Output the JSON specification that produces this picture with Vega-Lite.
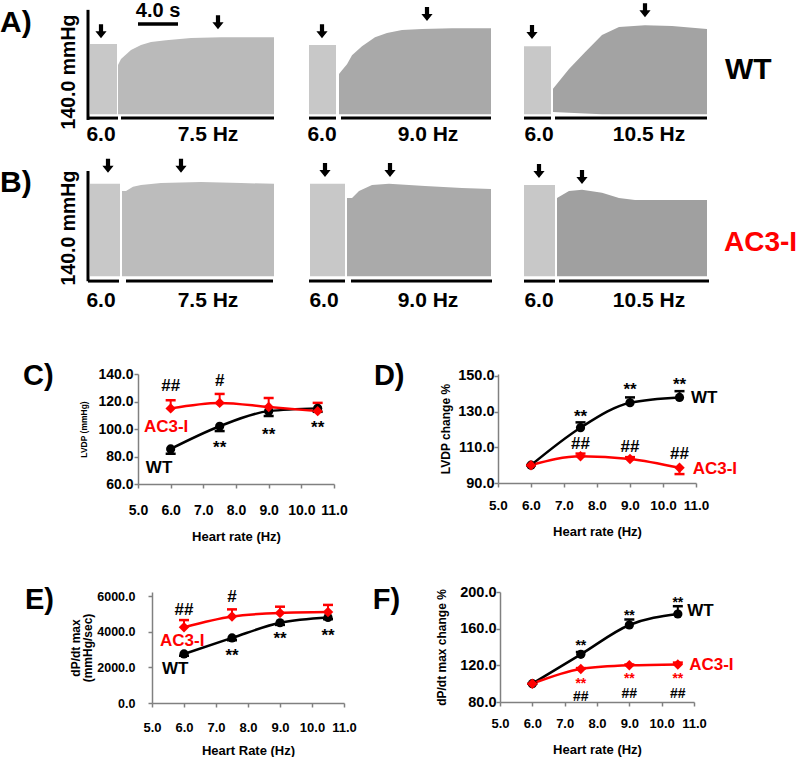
{
"$schema":"https://vega.github.io/schema/vega-lite/v6.json",
"padding":0,
"background":"white",
"config":{"font":"Liberation Sans","view":{"stroke":null},
 "axis":{"domainColor":"#808080","tickColor":"#808080","domainWidth":1.5,"tickWidth":1.5,"labelColor":"#000","titleColor":"#000","labelFontWeight":"bold","titleFontWeight":"bold","labelFlush":false,"labelOverlap":false,"grid":false,"labelFont":"Liberation Sans","titleFont":"Liberation Sans"},
 "text":{"font":"Liberation Sans"}},
"datasets":{
"tr":[
{"p":"A1","t":0.2,"hi":94,"lo":0,"r":"6.0"},{"p":"A1","t":2.9,"hi":94,"lo":0,"r":"6.0"},
{"p":"A1","t":3.0,"hi":66,"lo":0,"r":"7.5"},{"p":"A1","t":3.3,"hi":74,"lo":0,"r":"7.5"},{"p":"A1","t":4.3,"hi":86,"lo":0,"r":"7.5"},{"p":"A1","t":5.3,"hi":92.5,"lo":0,"r":"7.5"},{"p":"A1","t":6.3,"hi":96.5,"lo":0,"r":"7.5"},{"p":"A1","t":7.8,"hi":99,"lo":0,"r":"7.5"},{"p":"A1","t":10.3,"hi":102,"lo":0,"r":"7.5"},{"p":"A1","t":13.3,"hi":103,"lo":0,"r":"7.5"},{"p":"A1","t":18.6,"hi":103,"lo":0,"r":"7.5"},
{"p":"A2","t":0.1,"hi":92.5,"lo":0,"r":"6.0"},{"p":"A2","t":2.8,"hi":92.5,"lo":0,"r":"6.0"},
{"p":"A2","t":3.1,"hi":54,"lo":0,"r":"9.0"},{"p":"A2","t":3.4,"hi":59,"lo":0,"r":"9.0"},{"p":"A2","t":3.9,"hi":67,"lo":0,"r":"9.0"},{"p":"A2","t":4.4,"hi":79,"lo":0,"r":"9.0"},{"p":"A2","t":5.4,"hi":91,"lo":0,"r":"9.0"},{"p":"A2","t":6.7,"hi":103,"lo":0,"r":"9.0"},{"p":"A2","t":7.9,"hi":108.5,"lo":0,"r":"9.0"},{"p":"A2","t":9.4,"hi":112.5,"lo":0,"r":"9.0"},{"p":"A2","t":11.4,"hi":114,"lo":0,"r":"9.0"},{"p":"A2","t":14.4,"hi":115,"lo":0,"r":"9.0"},{"p":"A2","t":18.3,"hi":115,"lo":0,"r":"9.0"},
{"p":"A3","t":0,"hi":91,"lo":0,"r":"6.0"},{"p":"A3","t":2.7,"hi":91,"lo":0,"r":"6.0"},
{"p":"A3","t":2.9,"hi":34,"lo":3,"r":"10.5"},{"p":"A3","t":4.5,"hi":60.5,"lo":2,"r":"10.5"},{"p":"A3","t":6.1,"hi":83,"lo":1,"r":"10.5"},{"p":"A3","t":7.8,"hi":106,"lo":0,"r":"10.5"},{"p":"A3","t":9.5,"hi":116.5,"lo":0,"r":"10.5"},{"p":"A3","t":12.1,"hi":119,"lo":0,"r":"10.5"},{"p":"A3","t":14.8,"hi":118,"lo":0,"r":"10.5"},{"p":"A3","t":18.3,"hi":114,"lo":0,"r":"10.5"},
{"p":"B1","t":0.2,"hi":123,"lo":0,"r":"6.0"},{"p":"B1","t":3.2,"hi":123,"lo":0,"r":"6.0"},
{"p":"B1","t":3.4,"hi":113.5,"lo":0,"r":"7.5"},{"p":"B1","t":3.8,"hi":113.5,"lo":0,"r":"7.5"},{"p":"B1","t":4.5,"hi":119,"lo":0,"r":"7.5"},{"p":"B1","t":5.3,"hi":121.5,"lo":0,"r":"7.5"},{"p":"B1","t":7.3,"hi":124,"lo":0,"r":"7.5"},{"p":"B1","t":11.3,"hi":125.5,"lo":0,"r":"7.5"},{"p":"B1","t":15.3,"hi":124,"lo":0,"r":"7.5"},{"p":"B1","t":18.6,"hi":123,"lo":0,"r":"7.5"},
{"p":"B2","t":0.2,"hi":123,"lo":0,"r":"6.0"},{"p":"B2","t":3.7,"hi":123,"lo":0,"r":"6.0"},
{"p":"B2","t":3.9,"hi":104,"lo":0,"r":"9.0"},{"p":"B2","t":4.4,"hi":104,"lo":0,"r":"9.0"},{"p":"B2","t":5.1,"hi":113.5,"lo":0,"r":"9.0"},{"p":"B2","t":6.4,"hi":121.5,"lo":0,"r":"9.0"},{"p":"B2","t":8.1,"hi":123,"lo":0,"r":"9.0"},{"p":"B2","t":11.7,"hi":120,"lo":0,"r":"9.0"},{"p":"B2","t":15.4,"hi":117.5,"lo":0,"r":"9.0"},{"p":"B2","t":18.3,"hi":116,"lo":0,"r":"9.0"},
{"p":"B3","t":0,"hi":121.5,"lo":0,"r":"6.0"},{"p":"B3","t":3.1,"hi":121.5,"lo":0,"r":"6.0"},
{"p":"B3","t":3.3,"hi":104,"lo":0,"r":"10.5"},{"p":"B3","t":4.5,"hi":113.5,"lo":0,"r":"10.5"},{"p":"B3","t":5.8,"hi":115,"lo":0,"r":"10.5"},{"p":"B3","t":7.8,"hi":111,"lo":0,"r":"10.5"},{"p":"B3","t":9.5,"hi":104,"lo":0,"r":"10.5"},{"p":"B3","t":11.1,"hi":101.5,"lo":0,"r":"10.5"},{"p":"B3","t":18.3,"hi":101.5,"lo":0,"r":"10.5"}
],
"bars":[
{"p":"A1","t1":-0.1,"t2":3.0},{"p":"A1","t1":3.3,"t2":18.6},
{"p":"A2","t1":0.1,"t2":2.8},{"p":"A2","t1":3.3,"t2":18.3},
{"p":"A3","t1":0,"t2":2.7},{"p":"A3","t1":3.1,"t2":18.3},
{"p":"B1","t1":0,"t2":3.1},{"p":"B1","t1":3.8,"t2":18.5},
{"p":"B2","t1":0.1,"t2":3.7},{"p":"B2","t1":4.3,"t2":18.4},
{"p":"B3","t1":0,"t2":3.1},{"p":"B3","t1":3.5,"t2":18.5}
],
"tlab":[
{"p":"A1","t":1.3,"txt":"6.0"},{"p":"A1","t":12.0,"txt":"7.5 Hz"},
{"p":"A2","t":1.4,"txt":"6.0"},{"p":"A2","t":12.0,"txt":"9.0 Hz"},
{"p":"A3","t":1.5,"txt":"6.0"},{"p":"A3","t":12.5,"txt":"10.5 Hz"},
{"p":"B1","t":1.3,"txt":"6.0"},{"p":"B1","t":12.0,"txt":"7.5 Hz"},
{"p":"B2","t":1.6,"txt":"6.0"},{"p":"B2","t":12.0,"txt":"9.0 Hz"},
{"p":"B3","t":1.5,"txt":"6.0"},{"p":"B3","t":12.5,"txt":"10.5 Hz"}
],
"arr":[
{"p":"A1","t":1.3,"y":111},{"p":"A1","t":13.0,"y":123},
{"p":"A2","t":1.4,"y":111},{"p":"A2","t":11.9,"y":134},
{"p":"A3","t":0.8,"y":110},{"p":"A3","t":12.1,"y":139},
{"p":"B1","t":2.0,"y":147},{"p":"B1","t":9.3,"y":147},
{"p":"B2","t":1.7,"y":141.5},{"p":"B2","t":8.2,"y":141.5},
{"p":"B3","t":1.5,"y":140},{"p":"B3","t":5.8,"y":132}
],
"misc":[
{"p":"A1","k":"vaxis","t":0,"y":-7.5,"y2":139.5},
{"p":"A1","k":"sbar","t":5,"t2":9,"y":120.5},
{"p":"A1","k":"sbtext","t":7,"y":138,"txt":"4.0 s"},
{"p":"A1","k":"ytitle","t":-1.9,"y":56.5,"txt":"140.0 mmHg"},
{"p":"A1","k":"letter","t":-8.7,"y":122,"txt":"A)"},
{"p":"A3","k":"grp","t":20.1,"y":59,"txt":"WT"},
{"p":"B1","k":"vaxis","t":0,"y":-6.7,"y2":140},
{"p":"B1","k":"ytitle","t":-1.9,"y":64,"txt":"140.0 mmHg"},
{"p":"B1","k":"letter","t":-8.7,"y":124,"txt":"B)"},
{"p":"B3","k":"grp","t":20.0,"y":44,"txt":"AC3-I"}
],
"ser":[
{"pn":"C","hz":6,"grp":"WT","y":85.5,"e":82},{"pn":"C","hz":7.5,"grp":"WT","y":102,"e":98.5},{"pn":"C","hz":9,"grp":"WT","y":113,"e":109.5},{"pn":"C","hz":10.5,"grp":"WT","y":115,"e":112.5},
{"pn":"C","hz":6,"grp":"AC3-I","y":115,"e":121},{"pn":"C","hz":7.5,"grp":"AC3-I","y":119,"e":125.5},{"pn":"C","hz":9,"grp":"AC3-I","y":116,"e":122.5},{"pn":"C","hz":10.5,"grp":"AC3-I","y":113,"e":119},
{"pn":"D","hz":6,"grp":"WT","y":100,"e":100},{"pn":"D","hz":7.5,"grp":"WT","y":121,"e":124},{"pn":"D","hz":9,"grp":"WT","y":135,"e":138},{"pn":"D","hz":10.5,"grp":"WT","y":138,"e":141.5},
{"pn":"D","hz":6,"grp":"AC3-I","y":100,"e":100},{"pn":"D","hz":7.5,"grp":"AC3-I","y":105,"e":106.5},{"pn":"D","hz":9,"grp":"AC3-I","y":103.5,"e":104.5},{"pn":"D","hz":10.5,"grp":"AC3-I","y":98.5,"e":95},
{"pn":"E","hz":6,"grp":"WT","y":2750,"e":2650},{"pn":"E","hz":7.5,"grp":"WT","y":3650,"e":3520},{"pn":"E","hz":9,"grp":"WT","y":4500,"e":4380},{"pn":"E","hz":10.5,"grp":"WT","y":4800,"e":4700},
{"pn":"E","hz":6,"grp":"AC3-I","y":4250,"e":4650},{"pn":"E","hz":7.5,"grp":"AC3-I","y":4850,"e":5250},{"pn":"E","hz":9,"grp":"AC3-I","y":5050,"e":5400},{"pn":"E","hz":10.5,"grp":"AC3-I","y":5100,"e":5500},
{"pn":"F","hz":6,"grp":"WT","y":100,"e":100},{"pn":"F","hz":7.5,"grp":"WT","y":132,"e":134.5},{"pn":"F","hz":9,"grp":"WT","y":164,"e":170},{"pn":"F","hz":10.5,"grp":"WT","y":176,"e":184.5},
{"pn":"F","hz":6,"grp":"AC3-I","y":100,"e":100},{"pn":"F","hz":7.5,"grp":"AC3-I","y":116,"e":117},{"pn":"F","hz":9,"grp":"AC3-I","y":120,"e":121},{"pn":"F","hz":10.5,"grp":"AC3-I","y":121,"e":123}
],
"cap":[
{"pn":"C","hz":6,"grp":"WT","y":82},{"pn":"C","hz":7.5,"grp":"WT","y":98.5},{"pn":"C","hz":9,"grp":"WT","y":109.5},{"pn":"C","hz":10.5,"grp":"WT","y":112.5},
{"pn":"C","hz":6,"grp":"AC3-I","y":121},{"pn":"C","hz":7.5,"grp":"AC3-I","y":125.5},{"pn":"C","hz":9,"grp":"AC3-I","y":122.5},{"pn":"C","hz":10.5,"grp":"AC3-I","y":119},
{"pn":"D","hz":6,"grp":"WT","y":100},{"pn":"D","hz":7.5,"grp":"WT","y":124},{"pn":"D","hz":9,"grp":"WT","y":138},{"pn":"D","hz":10.5,"grp":"WT","y":141.5},
{"pn":"D","hz":6,"grp":"AC3-I","y":100},{"pn":"D","hz":7.5,"grp":"AC3-I","y":106.5},{"pn":"D","hz":9,"grp":"AC3-I","y":104.5},{"pn":"D","hz":10.5,"grp":"AC3-I","y":95},
{"pn":"E","hz":6,"grp":"WT","y":2650},{"pn":"E","hz":7.5,"grp":"WT","y":3520},{"pn":"E","hz":9,"grp":"WT","y":4380},{"pn":"E","hz":10.5,"grp":"WT","y":4700},
{"pn":"E","hz":6,"grp":"AC3-I","y":4650},{"pn":"E","hz":7.5,"grp":"AC3-I","y":5250},{"pn":"E","hz":9,"grp":"AC3-I","y":5400},{"pn":"E","hz":10.5,"grp":"AC3-I","y":5500},
{"pn":"F","hz":6,"grp":"WT","y":100},{"pn":"F","hz":7.5,"grp":"WT","y":134.5},{"pn":"F","hz":9,"grp":"WT","y":170},{"pn":"F","hz":10.5,"grp":"WT","y":184.5},
{"pn":"F","hz":6,"grp":"AC3-I","y":100},{"pn":"F","hz":7.5,"grp":"AC3-I","y":117},{"pn":"F","hz":9,"grp":"AC3-I","y":121},{"pn":"F","hz":10.5,"grp":"AC3-I","y":123}
],
"ann":[
{"pn":"C","hz":6,"y":131,"txt":"##","grp":"WT"},{"pn":"C","hz":7.5,"y":135,"txt":"#","grp":"WT"},{"pn":"C","hz":7.5,"y":86.1,"txt":"**","grp":"WT"},{"pn":"C","hz":9,"y":95.6,"txt":"**","grp":"WT"},{"pn":"C","hz":10.5,"y":100.7,"txt":"**","grp":"WT"},
{"pn":"D","hz":7.5,"y":127,"txt":"**","grp":"WT"},{"pn":"D","hz":9,"y":142.1,"txt":"**","grp":"WT"},{"pn":"D","hz":10.5,"y":145,"txt":"**","grp":"WT"},{"pn":"D","hz":7.5,"y":112,"txt":"##","grp":"WT"},{"pn":"D","hz":9,"y":110,"txt":"##","grp":"WT"},{"pn":"D","hz":10.5,"y":106,"txt":"##","grp":"WT"},
{"pn":"E","hz":6,"y":5215,"txt":"##","grp":"WT"},{"pn":"E","hz":7.5,"y":5944,"txt":"#","grp":"WT"},{"pn":"E","hz":7.5,"y":2636,"txt":"**","grp":"WT"},{"pn":"E","hz":9,"y":3589,"txt":"**","grp":"WT"},{"pn":"E","hz":10.5,"y":3757,"txt":"**","grp":"WT"}
],
"annF":[
{"pn":"F","hz":7.5,"y":141,"txt":"**","grp":"WT"},{"pn":"F","hz":9,"y":173.8,"txt":"**","grp":"WT"},{"pn":"F","hz":10.5,"y":188,"txt":"**","grp":"WT"},{"pn":"F","hz":7.5,"y":100,"txt":"**","grp":"AC3-I"},{"pn":"F","hz":9,"y":105,"txt":"**","grp":"AC3-I"},{"pn":"F","hz":10.5,"y":105.5,"txt":"**","grp":"AC3-I"},{"pn":"F","hz":7.5,"y":85.5,"txt":"##","grp":"WT"},{"pn":"F","hz":9,"y":89,"txt":"##","grp":"WT"},{"pn":"F","hz":10.5,"y":88.9,"txt":"##","grp":"WT"}
],
"nm":[
{"pn":"C","hz":5.18,"y":101.5,"txt":"AC3-I","grp":"AC3-I"},{"pn":"C","hz":5.24,"y":71.6,"txt":"WT","grp":"WT"},
{"pn":"D","hz":10.85,"y":137.5,"txt":"WT","grp":"WT"},{"pn":"D","hz":10.9,"y":97.8,"txt":"AC3-I","grp":"AC3-I"},
{"pn":"E","hz":5.25,"y":3477,"txt":"AC3-I","grp":"AC3-I"},{"pn":"E","hz":5.31,"y":1907,"txt":"WT","grp":"WT"},
{"pn":"F","hz":10.79,"y":179.3,"txt":"WT","grp":"WT"},{"pn":"F","hz":10.85,"y":120.4,"txt":"AC3-I","grp":"AC3-I"}
],
"let":[
{"pn":"C","hz":1.51,"y":138.5,"txt":"C)"},{"pn":"D","hz":1.24,"y":150,"txt":"D)"},{"pn":"E","hz":1.09,"y":5776,"txt":"E)"},{"pn":"F","hz":1.068,"y":191.3,"txt":"F)"}
]
},
"resolve":{"scale":{"color":"independent","shape":"independent","size":"independent"}},
"vconcat":[
{"resolve":{"scale":{"color":"independent","shape":"independent","size":"independent"}},"vconcat":[
{"resolve":{"scale":{"color":"independent","shape":"independent","size":"independent"}},"hconcat":[
{"width":32,"height":146,"data":{"name":"misc"},"transform":[{"filter":"datum.p==='A1' && datum.k==='letter'"}],"mark":{"type":"text","fontSize":30,"fontWeight":"bold","color":"#000","baseline":"middle","align":"left"},"encoding":{"x":{"field":"t","type":"quantitative","scale":{"domain":[-8.7,-5.5],"nice":false,"zero":false},"axis":null},"y":{"field":"y","type":"quantitative","scale":{"domain":[-45,150],"nice":false,"zero":false},"axis":null},"text":{"field":"txt"}}},
{"width":193,"height":146,"layer":[
{"data":{"name":"tr"},"transform":[{"filter":"datum.p==='A1'"}],"mark":{"type":"area","opacity":1},"encoding":{"x":{"field":"t","type":"quantitative","scale":{"domain":[0,19.3],"nice":false,"zero":false},"axis":null},"y":{"field":"hi","type":"quantitative","scale":{"domain":[-45,150],"nice":false,"zero":false},"axis":null},"y2":{"field":"lo"},"color":{"field":"r","type":"nominal","scale":{"domain":["6.0","7.5","9.0","10.5"],"range":["#c8c8c8","#bababa","#a9a9a9","#a3a3a3"]},"legend":null}}},
{"data":{"name":"bars"},"transform":[{"filter":"datum.p==='A1'"}],"mark":{"type":"rule","color":"#000","strokeWidth":3},"encoding":{"x":{"field":"t1","type":"quantitative","axis":null},"x2":{"field":"t2"},"y":{"datum":-5,"type":"quantitative","axis":null}}},
{"data":{"name":"tlab"},"transform":[{"filter":"datum.p==='A1'"}],"mark":{"type":"text","fontSize":21,"fontWeight":"bold","color":"#000","baseline":"middle","align":"center"},"encoding":{"x":{"field":"t","type":"quantitative","axis":null},"y":{"datum":-28,"type":"quantitative","axis":null},"text":{"field":"txt"}}},
{"data":{"name":"arr"},"transform":[{"filter":"datum.p==='A1'"}],"mark":{"type":"point","shape":"M-0.3,-1L0.3,-1L0.3,0L0.8,0L0,1L-0.8,0L-0.3,0Z","size":196,"filled":true,"color":"#000","opacity":1},"encoding":{"x":{"field":"t","type":"quantitative","axis":null},"y":{"field":"y","type":"quantitative","axis":null}}},
{"data":{"name":"misc"},"transform":[{"filter":"datum.p==='A1' && datum.k==='vaxis'"}],"mark":{"type":"rule","color":"#000","strokeWidth":3},"encoding":{"x":{"field":"t","type":"quantitative","axis":null},"y":{"field":"y","type":"quantitative","axis":null},"y2":{"field":"y2"}}},
{"data":{"name":"misc"},"transform":[{"filter":"datum.p==='A1' && datum.k==='sbar'"}],"mark":{"type":"rule","color":"#000","strokeWidth":3.5},"encoding":{"x":{"field":"t","type":"quantitative","axis":null},"x2":{"field":"t2"},"y":{"field":"y","type":"quantitative","axis":null}}},
{"data":{"name":"misc"},"transform":[{"filter":"datum.p==='A1' && datum.k==='sbtext'"}],"mark":{"type":"text","fontSize":20,"fontWeight":"bold","color":"#000","baseline":"middle","align":"center"},"encoding":{"x":{"field":"t","type":"quantitative","axis":null},"y":{"field":"y","type":"quantitative","axis":null},"text":{"field":"txt"}}},
{"data":{"name":"misc"},"transform":[{"filter":"datum.p==='A1' && datum.k==='ytitle'"}],"mark":{"type":"text","fontSize":19.5,"fontWeight":"bold","color":"#000","baseline":"middle","align":"center","angle":270},"encoding":{"x":{"field":"t","type":"quantitative","axis":null},"y":{"field":"y","type":"quantitative","axis":null},"text":{"field":"txt"}}}
]},
{"width":188,"height":146,"layer":[
{"data":{"name":"tr"},"transform":[{"filter":"datum.p==='A2'"}],"mark":{"type":"area","opacity":1},"encoding":{"x":{"field":"t","type":"quantitative","scale":{"domain":[0,18.8],"nice":false,"zero":false},"axis":null},"y":{"field":"hi","type":"quantitative","scale":{"domain":[-45,150],"nice":false,"zero":false},"axis":null},"y2":{"field":"lo"},"color":{"field":"r","type":"nominal","scale":{"domain":["6.0","7.5","9.0","10.5"],"range":["#c8c8c8","#bababa","#a9a9a9","#a3a3a3"]},"legend":null}}},
{"data":{"name":"bars"},"transform":[{"filter":"datum.p==='A2'"}],"mark":{"type":"rule","color":"#000","strokeWidth":3},"encoding":{"x":{"field":"t1","type":"quantitative","axis":null},"x2":{"field":"t2"},"y":{"datum":-5,"type":"quantitative","axis":null}}},
{"data":{"name":"tlab"},"transform":[{"filter":"datum.p==='A2'"}],"mark":{"type":"text","fontSize":21,"fontWeight":"bold","color":"#000","baseline":"middle","align":"center"},"encoding":{"x":{"field":"t","type":"quantitative","axis":null},"y":{"datum":-28,"type":"quantitative","axis":null},"text":{"field":"txt"}}},
{"data":{"name":"arr"},"transform":[{"filter":"datum.p==='A2'"}],"mark":{"type":"point","shape":"M-0.3,-1L0.3,-1L0.3,0L0.8,0L0,1L-0.8,0L-0.3,0Z","size":196,"filled":true,"color":"#000","opacity":1},"encoding":{"x":{"field":"t","type":"quantitative","axis":null},"y":{"field":"y","type":"quantitative","axis":null}}}
]},
{"width":184,"height":146,"layer":[
{"data":{"name":"tr"},"transform":[{"filter":"datum.p==='A3'"}],"mark":{"type":"area","opacity":1},"encoding":{"x":{"field":"t","type":"quantitative","scale":{"domain":[0,18.4],"nice":false,"zero":false},"axis":null},"y":{"field":"hi","type":"quantitative","scale":{"domain":[-45,150],"nice":false,"zero":false},"axis":null},"y2":{"field":"lo"},"color":{"field":"r","type":"nominal","scale":{"domain":["6.0","7.5","9.0","10.5"],"range":["#c8c8c8","#bababa","#a9a9a9","#a3a3a3"]},"legend":null}}},
{"data":{"name":"bars"},"transform":[{"filter":"datum.p==='A3'"}],"mark":{"type":"rule","color":"#000","strokeWidth":3},"encoding":{"x":{"field":"t1","type":"quantitative","axis":null},"x2":{"field":"t2"},"y":{"datum":-5,"type":"quantitative","axis":null}}},
{"data":{"name":"tlab"},"transform":[{"filter":"datum.p==='A3'"}],"mark":{"type":"text","fontSize":21,"fontWeight":"bold","color":"#000","baseline":"middle","align":"center"},"encoding":{"x":{"field":"t","type":"quantitative","axis":null},"y":{"datum":-28,"type":"quantitative","axis":null},"text":{"field":"txt"}}},
{"data":{"name":"arr"},"transform":[{"filter":"datum.p==='A3'"}],"mark":{"type":"point","shape":"M-0.3,-1L0.3,-1L0.3,0L0.8,0L0,1L-0.8,0L-0.3,0Z","size":196,"filled":true,"color":"#000","opacity":1},"encoding":{"x":{"field":"t","type":"quantitative","axis":null},"y":{"field":"y","type":"quantitative","axis":null}}},
{"data":{"name":"misc"},"transform":[{"filter":"datum.p==='A3' && datum.k==='grp'"}],"mark":{"type":"text","fontSize":30,"fontWeight":"bold","color":"#000","baseline":"middle","align":"left"},"encoding":{"x":{"field":"t","type":"quantitative","axis":null},"y":{"field":"y","type":"quantitative","axis":null},"text":{"field":"txt"}}}
]}
],"spacing":26},
{"resolve":{"scale":{"color":"independent","shape":"independent","size":"independent"}},"hconcat":[
{"width":32,"height":151,"data":{"name":"misc"},"transform":[{"filter":"datum.p==='B1' && datum.k==='letter'"}],"mark":{"type":"text","fontSize":30,"fontWeight":"bold","color":"#000","baseline":"middle","align":"left"},"encoding":{"x":{"field":"t","type":"quantitative","scale":{"domain":[-8.7,-5.5],"nice":false,"zero":false},"axis":null},"y":{"field":"y","type":"quantitative","scale":{"domain":[-45,156],"nice":false,"zero":false},"axis":null},"text":{"field":"txt"}}},
{"width":193,"height":151,"layer":[
{"data":{"name":"tr"},"transform":[{"filter":"datum.p==='B1'"}],"mark":{"type":"area","opacity":1},"encoding":{"x":{"field":"t","type":"quantitative","scale":{"domain":[0,19.3],"nice":false,"zero":false},"axis":null},"y":{"field":"hi","type":"quantitative","scale":{"domain":[-45,156],"nice":false,"zero":false},"axis":null},"y2":{"field":"lo"},"color":{"field":"r","type":"nominal","scale":{"domain":["6.0","7.5","9.0","10.5"],"range":["#c8c8c8","#bcbcbc","#aaaaaa","#a0a0a0"]},"legend":null}}},
{"data":{"name":"bars"},"transform":[{"filter":"datum.p==='B1'"}],"mark":{"type":"rule","color":"#000","strokeWidth":3},"encoding":{"x":{"field":"t1","type":"quantitative","axis":null},"x2":{"field":"t2"},"y":{"datum":-6.5,"type":"quantitative","axis":null}}},
{"data":{"name":"tlab"},"transform":[{"filter":"datum.p==='B1'"}],"mark":{"type":"text","fontSize":21,"fontWeight":"bold","color":"#000","baseline":"middle","align":"center"},"encoding":{"x":{"field":"t","type":"quantitative","axis":null},"y":{"datum":-33,"type":"quantitative","axis":null},"text":{"field":"txt"}}},
{"data":{"name":"arr"},"transform":[{"filter":"datum.p==='B1'"}],"mark":{"type":"point","shape":"M-0.3,-1L0.3,-1L0.3,0L0.8,0L0,1L-0.8,0L-0.3,0Z","size":196,"filled":true,"color":"#000","opacity":1},"encoding":{"x":{"field":"t","type":"quantitative","axis":null},"y":{"field":"y","type":"quantitative","axis":null}}},
{"data":{"name":"misc"},"transform":[{"filter":"datum.p==='B1' && datum.k==='vaxis'"}],"mark":{"type":"rule","color":"#000","strokeWidth":3},"encoding":{"x":{"field":"t","type":"quantitative","axis":null},"y":{"field":"y","type":"quantitative","axis":null},"y2":{"field":"y2"}}},
{"data":{"name":"misc"},"transform":[{"filter":"datum.p==='B1' && datum.k==='ytitle'"}],"mark":{"type":"text","fontSize":19.5,"fontWeight":"bold","color":"#000","baseline":"middle","align":"center","angle":270},"encoding":{"x":{"field":"t","type":"quantitative","axis":null},"y":{"field":"y","type":"quantitative","axis":null},"text":{"field":"txt"}}}
]},
{"width":188,"height":151,"layer":[
{"data":{"name":"tr"},"transform":[{"filter":"datum.p==='B2'"}],"mark":{"type":"area","opacity":1},"encoding":{"x":{"field":"t","type":"quantitative","scale":{"domain":[0,18.8],"nice":false,"zero":false},"axis":null},"y":{"field":"hi","type":"quantitative","scale":{"domain":[-45,156],"nice":false,"zero":false},"axis":null},"y2":{"field":"lo"},"color":{"field":"r","type":"nominal","scale":{"domain":["6.0","7.5","9.0","10.5"],"range":["#c8c8c8","#bcbcbc","#aaaaaa","#a0a0a0"]},"legend":null}}},
{"data":{"name":"bars"},"transform":[{"filter":"datum.p==='B2'"}],"mark":{"type":"rule","color":"#000","strokeWidth":3},"encoding":{"x":{"field":"t1","type":"quantitative","axis":null},"x2":{"field":"t2"},"y":{"datum":-6.5,"type":"quantitative","axis":null}}},
{"data":{"name":"tlab"},"transform":[{"filter":"datum.p==='B2'"}],"mark":{"type":"text","fontSize":21,"fontWeight":"bold","color":"#000","baseline":"middle","align":"center"},"encoding":{"x":{"field":"t","type":"quantitative","axis":null},"y":{"datum":-33,"type":"quantitative","axis":null},"text":{"field":"txt"}}},
{"data":{"name":"arr"},"transform":[{"filter":"datum.p==='B2'"}],"mark":{"type":"point","shape":"M-0.3,-1L0.3,-1L0.3,0L0.8,0L0,1L-0.8,0L-0.3,0Z","size":196,"filled":true,"color":"#000","opacity":1},"encoding":{"x":{"field":"t","type":"quantitative","axis":null},"y":{"field":"y","type":"quantitative","axis":null}}}
]},
{"width":185,"height":151,"layer":[
{"data":{"name":"tr"},"transform":[{"filter":"datum.p==='B3'"}],"mark":{"type":"area","opacity":1},"encoding":{"x":{"field":"t","type":"quantitative","scale":{"domain":[0,18.5],"nice":false,"zero":false},"axis":null},"y":{"field":"hi","type":"quantitative","scale":{"domain":[-45,156],"nice":false,"zero":false},"axis":null},"y2":{"field":"lo"},"color":{"field":"r","type":"nominal","scale":{"domain":["6.0","7.5","9.0","10.5"],"range":["#c8c8c8","#bcbcbc","#aaaaaa","#a0a0a0"]},"legend":null}}},
{"data":{"name":"bars"},"transform":[{"filter":"datum.p==='B3'"}],"mark":{"type":"rule","color":"#000","strokeWidth":3},"encoding":{"x":{"field":"t1","type":"quantitative","axis":null},"x2":{"field":"t2"},"y":{"datum":-6.5,"type":"quantitative","axis":null}}},
{"data":{"name":"tlab"},"transform":[{"filter":"datum.p==='B3'"}],"mark":{"type":"text","fontSize":21,"fontWeight":"bold","color":"#000","baseline":"middle","align":"center"},"encoding":{"x":{"field":"t","type":"quantitative","axis":null},"y":{"datum":-33,"type":"quantitative","axis":null},"text":{"field":"txt"}}},
{"data":{"name":"arr"},"transform":[{"filter":"datum.p==='B3'"}],"mark":{"type":"point","shape":"M-0.3,-1L0.3,-1L0.3,0L0.8,0L0,1L-0.8,0L-0.3,0Z","size":196,"filled":true,"color":"#000","opacity":1},"encoding":{"x":{"field":"t","type":"quantitative","axis":null},"y":{"field":"y","type":"quantitative","axis":null}}},
{"data":{"name":"misc"},"transform":[{"filter":"datum.p==='B3' && datum.k==='grp'"}],"mark":{"type":"text","fontSize":28,"fontWeight":"bold","color":"#ff0000","baseline":"middle","align":"left"},"encoding":{"x":{"field":"t","type":"quantitative","axis":null},"y":{"field":"y","type":"quantitative","axis":null},"text":{"field":"txt"}}}
]}
],"spacing":26}
],"spacing":10},
{"resolve":{"scale":{"color":"independent","shape":"independent","size":"independent"}},"vconcat":[
{"resolve":{"scale":{"color":"independent","shape":"independent","size":"independent"}},"hconcat":[
{"width":53,"height":110,"data":{"name":"let"},"transform":[{"filter":"datum.pn==='C'"}],"mark":{"type":"text","fontSize":29,"fontWeight":"bold","baseline":"middle","align":"left","color":"#000"},"encoding":{"x":{"field":"hz","type":"quantitative","scale":{"domain":[0.807,2.43],"nice":false,"zero":false},"axis":null},"y":{"field":"y","type":"quantitative","scale":{"domain":[60,140],"nice":false,"zero":false},"axis":null},"text":{"field":"txt"}}},
{"width":196,"height":110,
"encoding":{"x":{"field":"hz","type":"quantitative","scale":{"domain":[5,11],"nice":false,"zero":false},"axis":{"values":[5,6,7,8,9,10,11],"format":".1f","title":"Heart rate (Hz)","labelFontSize":14,"titleFontSize":13,"tickSize":4,"labelPadding":15,"titlePadding":13}},"y":{"field":"y","type":"quantitative","scale":{"domain":[60,140],"nice":false,"zero":false},"axis":{"values":[60,80,100,120,140],"format":".1f","title":"LVDP (mmHg)","labelFontSize":14,"titleFontSize":8.5,"tickSize":4,"labelPadding":1,"titlePadding":9}}},
"layer":[
{"data":{"name":"ser"},"transform":[{"filter":"datum.pn==='C'"}],"mark":{"type":"line","interpolate":"monotone","strokeWidth":2.5},"encoding":{"color":{"field":"grp","type":"nominal","scale":{"domain":["WT","AC3-I"],"range":["#000000","#ff0000"]},"legend":null}}},
{"data":{"name":"ser"},"transform":[{"filter":"datum.pn==='C'"}],"mark":{"type":"rule","strokeWidth":2},"encoding":{"y2":{"field":"e"},"color":{"field":"grp","type":"nominal","legend":null}}},
{"data":{"name":"cap"},"transform":[{"filter":"datum.pn==='C'"}],"mark":{"type":"tick","orient":"horizontal","size":10,"thickness":2.5,"opacity":1},"encoding":{"color":{"field":"grp","type":"nominal","legend":null}}},
{"data":{"name":"ser"},"transform":[{"filter":"datum.pn==='C'"}],"mark":{"type":"point","filled":true,"opacity":1},"encoding":{"color":{"field":"grp","type":"nominal","legend":null},"shape":{"field":"grp","type":"nominal","scale":{"domain":["WT","AC3-I"],"range":["circle","diamond"]},"legend":null},"size":{"field":"grp","type":"nominal","scale":{"domain":["WT","AC3-I"],"range":[85,110]},"legend":null}}},
{"data":{"name":"ann"},"transform":[{"filter":"datum.pn==='C'"}],"mark":{"type":"text","fontSize":17,"fontWeight":"bold","baseline":"middle","align":"center"},"encoding":{"text":{"field":"txt"},"color":{"field":"grp","type":"nominal","legend":null}}},
{"data":{"name":"nm"},"transform":[{"filter":"datum.pn==='C'"}],"mark":{"type":"text","fontSize":17,"fontWeight":"bold","baseline":"middle","align":"left"},"encoding":{"text":{"field":"txt"},"color":{"field":"grp","type":"nominal","legend":null}}}
]},
{"width":198,"height":109,
"encoding":{"x":{"field":"hz","type":"quantitative","scale":{"domain":[5,11],"nice":false,"zero":false},"axis":{"values":[5,6,7,8,9,10,11],"format":".1f","title":"Heart rate (Hz)","labelFontSize":13.5,"titleFontSize":13,"tickSize":4,"labelPadding":11,"titlePadding":14}},"y":{"field":"y","type":"quantitative","scale":{"domain":[90,151.12],"nice":false,"zero":false},"axis":{"values":[90,110,130,150],"format":".1f","title":"LVDP change %","labelFontSize":14.5,"titleFontSize":12,"tickSize":4,"labelPadding":0,"titlePadding":5}}},
"layer":[
{"data":{"name":"ser"},"transform":[{"filter":"datum.pn==='D'"}],"mark":{"type":"line","interpolate":"monotone","strokeWidth":2.5},"encoding":{"color":{"field":"grp","type":"nominal","scale":{"domain":["WT","AC3-I"],"range":["#000000","#ff0000"]},"legend":null}}},
{"data":{"name":"ser"},"transform":[{"filter":"datum.pn==='D'"}],"mark":{"type":"rule","strokeWidth":2},"encoding":{"y2":{"field":"e"},"color":{"field":"grp","type":"nominal","legend":null}}},
{"data":{"name":"cap"},"transform":[{"filter":"datum.pn==='D'"}],"mark":{"type":"tick","orient":"horizontal","size":10,"thickness":2.5,"opacity":1},"encoding":{"color":{"field":"grp","type":"nominal","legend":null}}},
{"data":{"name":"ser"},"transform":[{"filter":"datum.pn==='D'"}],"mark":{"type":"point","filled":true,"opacity":1},"encoding":{"color":{"field":"grp","type":"nominal","legend":null},"shape":{"field":"grp","type":"nominal","scale":{"domain":["WT","AC3-I"],"range":["circle","diamond"]},"legend":null},"size":{"field":"grp","type":"nominal","scale":{"domain":["WT","AC3-I"],"range":[85,110]},"legend":null}}},
{"data":{"name":"ann"},"transform":[{"filter":"datum.pn==='D'"}],"mark":{"type":"text","fontSize":17,"fontWeight":"bold","baseline":"middle","align":"center"},"encoding":{"text":{"field":"txt"},"color":{"field":"grp","type":"nominal","legend":null}}},
{"data":{"name":"nm"},"transform":[{"filter":"datum.pn==='D'"}],"mark":{"type":"text","fontSize":17,"fontWeight":"bold","baseline":"middle","align":"left"},"encoding":{"text":{"field":"txt"},"color":{"field":"grp","type":"nominal","legend":null}}},
{"data":{"name":"let"},"transform":[{"filter":"datum.pn==='D'"}],"mark":{"type":"text","fontSize":29,"fontWeight":"bold","baseline":"middle","align":"left","color":"#000"},"encoding":{"text":{"field":"txt"}}}
]}
],"spacing":25},
{"resolve":{"scale":{"color":"independent","shape":"independent","size":"independent"}},"hconcat":[
{"width":54,"height":111,"data":{"name":"let"},"transform":[{"filter":"datum.pn==='E'"}],"mark":{"type":"text","fontSize":29,"fontWeight":"bold","baseline":"middle","align":"left","color":"#000"},"encoding":{"x":{"field":"hz","type":"quantitative","scale":{"domain":[0.3125,2.0],"nice":false,"zero":false},"axis":null},"y":{"field":"y","type":"quantitative","scale":{"domain":[0,6224.3],"nice":false,"zero":false},"axis":null},"text":{"field":"txt"}}},
{"width":192,"height":111,
"encoding":{"x":{"field":"hz","type":"quantitative","scale":{"domain":[5,11],"nice":false,"zero":false},"axis":{"values":[5,6,7,8,9,10,11],"format":".1f","title":"Heart Rate (Hz)","labelFontSize":13,"titleFontSize":13,"tickSize":4,"labelPadding":14,"titlePadding":10}},"y":{"field":"y","type":"quantitative","scale":{"domain":[0,6224.3],"nice":false,"zero":false},"axis":{"values":[0,2000,4000,6000],"format":".1f","title":["dP/dt max","(mmHg/sec)"],"titleLineHeight":12,"labelFontSize":12.5,"titleFontSize":12,"tickSize":4,"labelPadding":13,"titlePadding":2}}},
"layer":[
{"data":{"name":"ser"},"transform":[{"filter":"datum.pn==='E'"}],"mark":{"type":"line","interpolate":"monotone","strokeWidth":2.5},"encoding":{"color":{"field":"grp","type":"nominal","scale":{"domain":["WT","AC3-I"],"range":["#000000","#ff0000"]},"legend":null}}},
{"data":{"name":"ser"},"transform":[{"filter":"datum.pn==='E'"}],"mark":{"type":"rule","strokeWidth":2},"encoding":{"y2":{"field":"e"},"color":{"field":"grp","type":"nominal","legend":null}}},
{"data":{"name":"cap"},"transform":[{"filter":"datum.pn==='E'"}],"mark":{"type":"tick","orient":"horizontal","size":10,"thickness":2.5,"opacity":1},"encoding":{"color":{"field":"grp","type":"nominal","legend":null}}},
{"data":{"name":"ser"},"transform":[{"filter":"datum.pn==='E'"}],"mark":{"type":"point","filled":true,"opacity":1},"encoding":{"color":{"field":"grp","type":"nominal","legend":null},"shape":{"field":"grp","type":"nominal","scale":{"domain":["WT","AC3-I"],"range":["circle","diamond"]},"legend":null},"size":{"field":"grp","type":"nominal","scale":{"domain":["WT","AC3-I"],"range":[85,110]},"legend":null}}},
{"data":{"name":"ann"},"transform":[{"filter":"datum.pn==='E'"}],"mark":{"type":"text","fontSize":17,"fontWeight":"bold","baseline":"middle","align":"center"},"encoding":{"text":{"field":"txt"},"color":{"field":"grp","type":"nominal","legend":null}}},
{"data":{"name":"nm"},"transform":[{"filter":"datum.pn==='E'"}],"mark":{"type":"text","fontSize":17,"fontWeight":"bold","baseline":"middle","align":"left"},"encoding":{"text":{"field":"txt"},"color":{"field":"grp","type":"nominal","legend":null}}}
]},
{"width":194,"height":110,
"encoding":{"x":{"field":"hz","type":"quantitative","scale":{"domain":[5,11],"nice":false,"zero":false},"axis":{"values":[5,6,7,8,9,10,11],"format":".1f","title":"Heart rate (Hz)","labelFontSize":13,"titleFontSize":13,"tickSize":4,"labelPadding":11,"titlePadding":13}},"y":{"field":"y","type":"quantitative","scale":{"domain":[80,200],"nice":false,"zero":false},"axis":{"values":[80,120,160,200],"format":".1f","title":"dP/dt max change %","labelFontSize":14.5,"titleFontSize":12,"tickSize":4,"labelPadding":0,"titlePadding":11}}},
"layer":[
{"data":{"name":"ser"},"transform":[{"filter":"datum.pn==='F'"}],"mark":{"type":"line","interpolate":"monotone","strokeWidth":2.5},"encoding":{"color":{"field":"grp","type":"nominal","scale":{"domain":["WT","AC3-I"],"range":["#000000","#ff0000"]},"legend":null}}},
{"data":{"name":"ser"},"transform":[{"filter":"datum.pn==='F'"}],"mark":{"type":"rule","strokeWidth":2},"encoding":{"y2":{"field":"e"},"color":{"field":"grp","type":"nominal","legend":null}}},
{"data":{"name":"cap"},"transform":[{"filter":"datum.pn==='F'"}],"mark":{"type":"tick","orient":"horizontal","size":10,"thickness":2.5,"opacity":1},"encoding":{"color":{"field":"grp","type":"nominal","legend":null}}},
{"data":{"name":"ser"},"transform":[{"filter":"datum.pn==='F'"}],"mark":{"type":"point","filled":true,"opacity":1},"encoding":{"color":{"field":"grp","type":"nominal","legend":null},"shape":{"field":"grp","type":"nominal","scale":{"domain":["WT","AC3-I"],"range":["circle","diamond"]},"legend":null},"size":{"field":"grp","type":"nominal","scale":{"domain":["WT","AC3-I"],"range":[85,110]},"legend":null}}},
{"data":{"name":"annF"},"mark":{"type":"text","fontSize":14,"fontWeight":"bold","baseline":"middle","align":"center"},"encoding":{"text":{"field":"txt"},"color":{"field":"grp","type":"nominal","legend":null}}},
{"data":{"name":"nm"},"transform":[{"filter":"datum.pn==='F'"}],"mark":{"type":"text","fontSize":17,"fontWeight":"bold","baseline":"middle","align":"left"},"encoding":{"text":{"field":"txt"},"color":{"field":"grp","type":"nominal","legend":null}}},
{"data":{"name":"let"},"transform":[{"filter":"datum.pn==='F'"}],"mark":{"type":"text","fontSize":29,"fontWeight":"bold","baseline":"middle","align":"left","color":"#000"},"encoding":{"text":{"field":"txt"}}}
]}
],"spacing":15}
],"spacing":41}
],
"spacing":50
}
